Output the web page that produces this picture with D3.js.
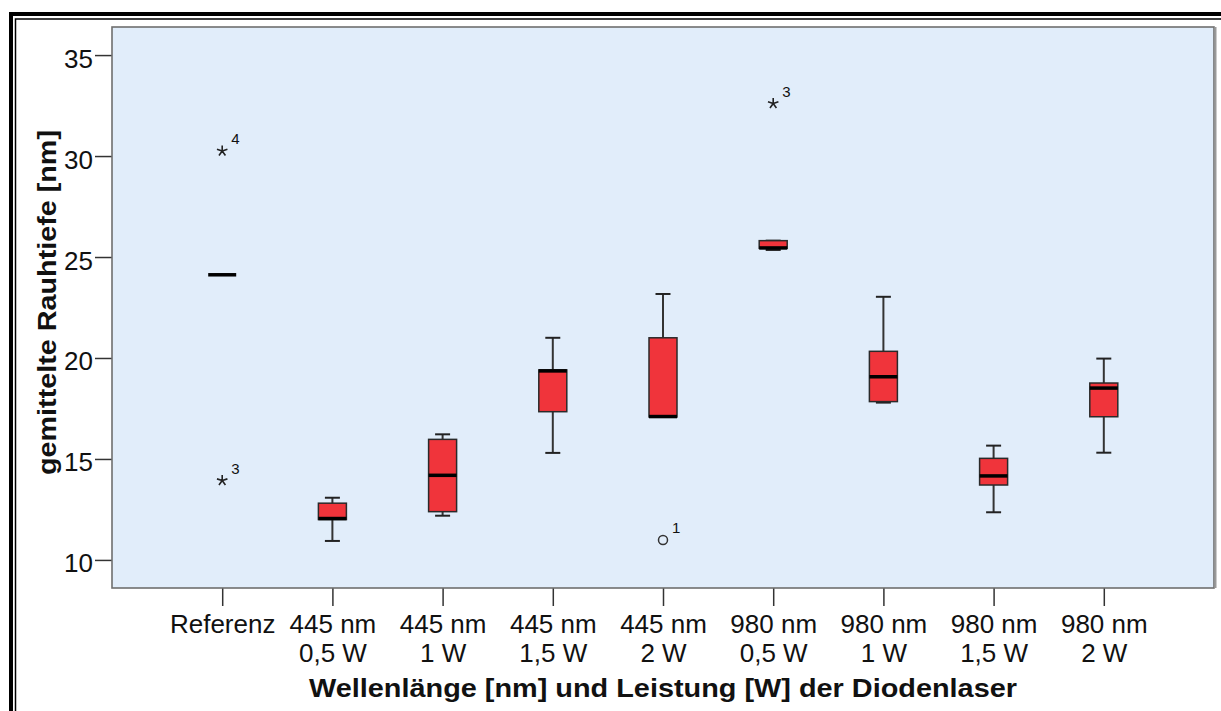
<!DOCTYPE html>
<html>
<head>
<meta charset="utf-8">
<script src="https://cdn.jsdelivr.net/npm/d3@7"></script>
<style>
  body { margin: 0; background: #fff; }
  text { font-family: "Liberation Sans", Arial, sans-serif; fill: #111; }
</style>
</head>
<body>
<script>
// data
var categories = ["Referenz", "445 nm 0,5 W", "445 nm 1 W", "445 nm 1,5 W", "445 nm 2 W",
                  "980 nm 0,5 W", "980 nm 1 W", "980 nm 1,5 W", "980 nm 2 W"]
var catLines = [["Referenz"], ["445 nm", "0,5 W"], ["445 nm", "1 W"], ["445 nm", "1,5 W"], ["445 nm", "2 W"],
                ["980 nm", "0,5 W"], ["980 nm", "1 W"], ["980 nm", "1,5 W"], ["980 nm", "2 W"]]
var whiskerLow  = [24.12, 10.94, 12.19, 15.30, 17.08, 25.35, 17.79, 12.36, 15.31]
var q1          = [24.12, 12.00, 12.39, 17.34, 17.08, 25.43, 17.84, 13.71, 17.09]
var median      = [24.12, 12.05, 14.19, 19.36, 17.10, 25.45, 19.07, 14.16, 18.51]
var q3          = [24.12, 12.81, 15.97, 19.41, 21.00, 25.81, 20.33, 15.03, 18.76]
var whiskerHigh = [24.12, 13.08, 16.22, 21.00, 23.17, 25.81, 23.03, 15.66, 19.97]
var outlierCat   = ["Referenz", "Referenz", "445 nm 2 W", "980 nm 0,5 W"]
var outlierValue = [30.25, 13.93, 10.99, 32.60]
var outlierLabel = ["4", "3", "1", "3"]
var outlierKind  = ["star", "star", "circle", "star"]
var yTicks = [10, 15, 20, 25, 30, 35]

var W = 1221, H = 711
var pLeft = 112, pRight = 1214, pTop = 27, pBottom = 588

var svg = d3.select("body").append("svg").attr("width", W).attr("height", H)

// double frame around the whole chart
svg.append("rect").attr("x", 11).attr("y", 14).attr("width", 1300).attr("height", 800)
  .attr("fill", "none").attr("stroke", "#000").attr("stroke-width", 4)
svg.append("rect").attr("x", 15.5).attr("y", 19).attr("width", 1300).attr("height", 800)
  .attr("fill", "none").attr("stroke", "#000").attr("stroke-width", 1.5)

var x = d3.scalePoint().domain(categories).range([pLeft, pRight]).padding(1)
var y = d3.scaleLinear().domain([8.61, 36.39]).range([pBottom, pTop])

// plot background
svg.append("rect").attr("x", pLeft).attr("y", pTop).attr("width", pRight - pLeft).attr("height", pBottom - pTop)
  .attr("fill", "#e1edfa")

// y axis
var yAxis = svg.append("g").attr("transform", "translate(" + pLeft + ",0)")
  .call(d3.axisLeft(y).tickValues(yTicks).tickSize(17).tickPadding(2))
yAxis.select(".domain").remove()
yAxis.selectAll(".tick line").attr("stroke", "#333").attr("stroke-width", 1.5)
yAxis.selectAll(".tick text").attr("dy", null).attr("y", 12)
  .style("font-size", "26px").style("font-family", "Liberation Sans, Arial, sans-serif").attr("fill", "#111")

// x axis
var xAxis = svg.append("g").attr("transform", "translate(0," + pBottom + ")")
  .call(d3.axisBottom(x).tickSize(18).tickFormat(""))
xAxis.select(".domain").remove()
xAxis.selectAll(".tick line").attr("stroke", "#333").attr("stroke-width", 1.5)
xAxis.selectAll(".tick").each(function(d, i) {
  var t = d3.select(this).append("text").attr("text-anchor", "middle")
    .style("font-size", "26px").attr("fill", "#111")
  catLines[i].forEach(function(s, k) {
    t.append("tspan").attr("x", 0).attr("y", 45 + k * 29).text(s)
  })
})

// plot border
svg.append("rect").attr("x", pLeft).attr("y", pTop).attr("width", pRight - pLeft).attr("height", pBottom - pTop)
  .attr("fill", "none").attr("stroke", "#6f6f6f").attr("stroke-width", 1.6)
svg.append("line").attr("x1", pRight + 1.5).attr("x2", pRight + 1.5).attr("y1", pTop).attr("y2", pBottom)
  .attr("stroke", "#9a9a9a").attr("stroke-width", 2)

// boxes
var boxW = 28, capW = 15
var g = svg.append("g")
categories.forEach(function(c, i) {
  var cx = x(c)
  g.append("line").attr("x1", cx).attr("x2", cx).attr("y1", y(whiskerHigh[i])).attr("y2", y(q3[i]))
    .attr("stroke", "#333").attr("stroke-width", 2)
  g.append("line").attr("x1", cx).attr("x2", cx).attr("y1", y(q1[i])).attr("y2", y(whiskerLow[i]))
    .attr("stroke", "#333").attr("stroke-width", 2)
  g.append("line").attr("x1", cx - capW / 2).attr("x2", cx + capW / 2).attr("y1", y(whiskerHigh[i])).attr("y2", y(whiskerHigh[i]))
    .attr("stroke", "#222").attr("stroke-width", 2)
  g.append("line").attr("x1", cx - capW / 2).attr("x2", cx + capW / 2).attr("y1", y(whiskerLow[i])).attr("y2", y(whiskerLow[i]))
    .attr("stroke", "#222").attr("stroke-width", 2)
  g.append("rect").attr("x", cx - boxW / 2).attr("y", y(q3[i])).attr("width", boxW)
    .attr("height", y(q1[i]) - y(q3[i]))
    .attr("fill", "#f0343b").attr("stroke", "#2a2a2a").attr("stroke-width", 1.5)
  g.append("line").attr("x1", cx - boxW / 2).attr("x2", cx + boxW / 2).attr("y1", y(median[i])).attr("y2", y(median[i]))
    .attr("stroke", "#000").attr("stroke-width", 3.5)
})

// outliers
var starPath = function(r) {
  var p = ""
  for (var k = 0; k < 5; k++) {
    var a = (-90 + k * 72) * Math.PI / 180
    p += "M0,0L" + (r * Math.cos(a)).toFixed(2) + "," + (r * Math.sin(a)).toFixed(2)
  }
  return p
}
outlierCat.forEach(function(c, i) {
  var cx = x(c), cy = y(outlierValue[i])
  var o = g.append("g").attr("transform", "translate(" + cx + "," + cy + ")")
  if (outlierKind[i] == "star") {
    o.append("path").attr("d", starPath(5.5)).attr("stroke", "#222").attr("stroke-width", 1.6).attr("fill", "none")
  } else {
    o.append("circle").attr("r", 4.5).attr("fill", "none").attr("stroke", "#333").attr("stroke-width", 1.5)
  }
  o.append("text").attr("x", 9).attr("y", -7).style("font-size", "15px").attr("fill", "#222").text(outlierLabel[i])
})

// axis titles
svg.append("text").attr("transform", "translate(56," + ((pTop + pBottom) / 2 - 5) + ") rotate(-90)")
  .attr("text-anchor", "middle").style("font-size", "26px").style("font-weight", "bold")
  .attr("textLength", 345).attr("lengthAdjust", "spacingAndGlyphs")
  .text("gemittelte Rauhtiefe [nm]")
svg.append("text").attr("x", 663).attr("y", 697)
  .attr("text-anchor", "middle").style("font-size", "26px").style("font-weight", "bold")
  .attr("textLength", 708).attr("lengthAdjust", "spacingAndGlyphs")
  .text("Wellenlänge [nm] und Leistung [W] der Diodenlaser")
</script>
</body>
</html>
